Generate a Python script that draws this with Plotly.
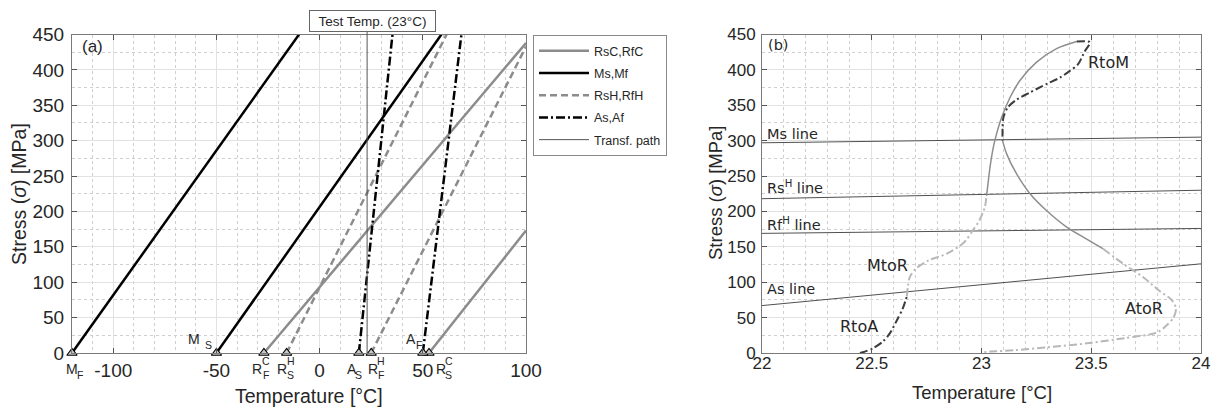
import plotly.graph_objects as go

# ---------------- panel (a): phase diagram ----------------
# each transformation line: zero-stress temperature -> end point
line_names = ["Mf", "Ms", "RfC", "RsC", "RsH", "RfH", "As", "Af"]
T_zero = [-120, -50, -27, 53, -16, 25, 19, 50]
T_end = [-10, 59, 100, 100, 61.5, 100, 35.3, 68.7]
S_end = [450, 450, 438, 173, 450, 433, 450, 450]
test_temp = 23
temp_ticks_a = [-100, -50, 0, 50, 100]
temp_ticklabels_a = ["-100", "-50", "0", "50", "100"]

# ---------------- panel (b): transformation path ----------------
# reference lines over 22..24 degC
ref_lines = ["Ms line", "Rs<sup>H</sup> line", "Rf<sup>H</sup> line", "As line"]
ref_S_left = [297, 218, 169, 67]
ref_S_right = [305, 230, 176, 126]
ref_label_S = [310, 234, 182, 90]

RtoA_T = [22.446, 22.46, 22.507, 22.55, 22.583, 22.614, 22.64, 22.655, 22.66]
RtoA_S = [0, 1, 7, 16, 28, 46, 62, 75, 80]

MtoR_T = [22.66, 22.665, 22.673, 22.70, 22.76, 22.84, 22.92, 22.96, 22.99, 23.015, 23.023]
MtoR_S = [80, 95, 107, 119, 131, 140, 156, 173, 187, 206, 222]

up_T = [23.023, 23.028, 23.039, 23.054, 23.069, 23.092, 23.13, 23.175, 23.251, 23.342, 23.434]
up_S = [222, 235, 263, 291, 310, 333, 361, 385, 411, 430, 440]

RtoM_T = [23.434, 23.494, 23.47, 23.44, 23.40, 23.357, 23.296, 23.22, 23.16, 23.12, 23.10, 23.096, 23.096]
RtoM_S = [440, 439, 426, 408, 398, 389, 380, 368, 358, 347, 333, 318, 300]

down_T = [23.096, 23.115, 23.16, 23.221, 23.297, 23.388, 23.479, 23.555]
down_S = [300, 281, 253, 225, 201, 178, 161, 147]

AtoR_T = [23.555, 23.646, 23.737, 23.81, 23.866, 23.886, 23.875, 23.84, 23.80, 23.65, 23.49, 23.30, 23.15, 23.04, 23.0]
AtoR_S = [147, 126, 107, 88, 75, 63, 50, 38, 29, 21, 14, 8, 4, 2, 1]

path_labels = ["RtoA", "MtoR", "RtoM", "AtoR"]
path_label_T = [22.44, 22.571, 23.578, 23.742]
path_label_S = [37, 124, 411, 63]

W, H = 1217, 407
ARIAL = "Liberation Sans, Arial, sans-serif"
DEJA = "DejaVu Sans, Verdana, sans-serif"
TXT = "#262626"

fig = go.Figure()

idx = {n: i for i, n in enumerate(line_names)}


def pair_xy(names):
    xs, ys = [], []
    for n in names:
        i = idx[n]
        xs += [T_zero[i], T_end[i], None]
        ys += [0, S_end[i], None]
    return xs, ys


legend_groups = [
    ("RsC,RfC", ["RfC", "RsC"], dict(color="#8c8c8c", width=2.5)),
    ("Ms,Mf", ["Mf", "Ms"], dict(color="#000000", width=2.5)),
    ("RsH,RfH", ["RsH", "RfH"], dict(color="#8c8c8c", width=2.5, dash="7px,4px")),
    ("As,Af", ["As", "Af"], dict(color="#000000", width=2.5, dash="9px,3px,2px,3px")),
]
for name, members, style in legend_groups:
    xs, ys = pair_xy(members)
    fig.add_trace(go.Scatter(x=xs, y=ys, mode="lines", name=name, line=style,
                             legendgroup=name, xaxis="x", yaxis="y"))

fig.add_trace(go.Scatter(x=[test_temp, test_temp], y=[0, 450], mode="lines",
                         name="Transf. path", legendgroup="path",
                         line=dict(color="#555555", width=1), xaxis="x", yaxis="y"))

fig.add_trace(go.Scatter(x=T_zero, y=[0] * len(T_zero), mode="markers", showlegend=False,
                         marker=dict(symbol="triangle-up", size=9, color="#c8c8c8",
                                     line=dict(color="#000000", width=1.1)),
                         cliponaxis=False, xaxis="x", yaxis="y"))

# ---- panel (b) traces ----
for k, lab in enumerate(ref_lines):
    fig.add_trace(go.Scatter(x=[22, 24], y=[ref_S_left[k], ref_S_right[k]], mode="lines",
                             showlegend=False, line=dict(color="#505050", width=1),
                             xaxis="x2", yaxis="y2"))

dark_dd = dict(color="#3c3c3c", width=2, dash="8px,3px,2px,3px", shape="spline", smoothing=0.8)
light_dd = dict(color="#b8b8b8", width=2, dash="8px,3px,2px,3px", shape="spline", smoothing=0.8)
mid_solid = dict(color="#8e8e8e", width=1.5, shape="spline", smoothing=0.8)

for xs, ys, st in [(RtoA_T, RtoA_S, dark_dd), (MtoR_T, MtoR_S, light_dd),
                   (up_T, up_S, mid_solid), (RtoM_T, RtoM_S, dark_dd),
                   (down_T, down_S, mid_solid), (AtoR_T, AtoR_S, light_dd)]:
    fig.add_trace(go.Scatter(x=xs, y=ys, mode="lines", showlegend=False, line=st,
                             xaxis="x2", yaxis="y2"))

annotations = []

# labels of the zero-stress points: (temperature, main, sup, sub, dx_main, dx_script, above)
point_labels = [
    (-120, "M", "", "F", 0, 8, False),
    (-50, "M", "", "S", -22, -8, True),
    (-27, "R", "C", "F", -7, 2, False),
    (-16, "R", "H", "S", -5, 4, False),
    (19, "A", "", "S", -7, 0, False),
    (25, "R", "H", "F", 2, 10, False),
    (50, "A", "", "F", -12, -4, True),
    (53, "R", "C", "S", 12, 19.5, False),
]
for T, main, sup, sub, dxm, dxs, above in point_labels:
    if above:
        ym, ysub = 14, 8
    else:
        ym, ysup, ysub = -16, -8, -22
    annotations.append(dict(x=T, y=0, xref="x", yref="y", text=main, showarrow=False,
                            xanchor="center", yanchor="middle",
                            xshift=dxm, yshift=ym, font=dict(family=ARIAL, size=14, color=TXT)))
    if sup:
        annotations.append(dict(x=T, y=0, xref="x", yref="y", text=sup, showarrow=False,
                                xanchor="center", yanchor="middle",
                                xshift=dxs, yshift=ysup, font=dict(family=ARIAL, size=10.5, color=TXT)))
    annotations.append(dict(x=T, y=0, xref="x", yref="y", text=sub, showarrow=False,
                            xanchor="center", yanchor="middle",
                            xshift=dxs, yshift=ysub, font=dict(family=ARIAL, size=10.5, color=TXT)))

annotations.append(dict(x=test_temp, y=1 - 21 / H, xref="x", yref="paper",
                        text="Test Temp. (23°C)", showarrow=False, xshift=5.5,
                        xanchor="center", yanchor="middle",
                        width=123, height=18, borderpad=1, bordercolor="#666666", borderwidth=1,
                        bgcolor="white", font=dict(family=ARIAL, size=13.5, color=TXT)))

annotations.append(dict(x=80 / W, y=1 - 46 / H, xref="paper", yref="paper", text="(a)",
                        xanchor="left", yanchor="middle", showarrow=False,
                        font=dict(family=ARIAL, size=17, color=TXT)))
annotations.append(dict(x=766 / W, y=1 - 45 / H, xref="paper", yref="paper", text="(b)",
                        xanchor="left", yanchor="middle", showarrow=False,
                        font=dict(family=DEJA, size=14.5, color=TXT)))

for k, lab in enumerate(ref_lines):
    annotations.append(dict(x=22.015, y=ref_label_S[k], xref="x2", yref="y2", text=lab,
                            xanchor="left", yanchor="middle", showarrow=False,
                            font=dict(family=DEJA, size=14.5, color=TXT)))
for k, lab in enumerate(path_labels):
    annotations.append(dict(x=path_label_T[k], y=path_label_S[k], xref="x2", yref="y2", text=lab,
                            xanchor="center", yanchor="middle",
                            showarrow=False, font=dict(family=DEJA, size=16, color=TXT)))

# axis titles
annotations += [
    dict(x=309 / W, y=1 - 396 / H, xref="paper", yref="paper", text="Temperature [°C]",
         xanchor="center", yanchor="middle",
         showarrow=False, font=dict(family=ARIAL, size=19.5, color=TXT)),
    dict(x=19 / W, y=1 - 194 / H, xref="paper", yref="paper", text="Stress (<i>σ</i>) [MPa]",
         xanchor="center", yanchor="middle",
         textangle=-90, showarrow=False, font=dict(family=ARIAL, size=19.5, color=TXT)),
    dict(x=982 / W, y=1 - 392 / H, xref="paper", yref="paper", text="Temperature [°C]",
         xanchor="center", yanchor="middle",
         showarrow=False, font=dict(family=ARIAL, size=18.5, color=TXT)),
    dict(x=715 / W, y=1 - 193 / H, xref="paper", yref="paper", text="Stress (<i>σ</i>) [MPa]",
         xanchor="center", yanchor="middle",
         textangle=-90, showarrow=False, font=dict(family=ARIAL, size=18.5, color=TXT)),
]

shapes = [dict(type="line", xref="x", yref="paper", x0=test_temp, x1=test_temp,
               y0=1 - 35 / H, y1=1 - 32 / H, line=dict(color="#555555", width=1))]

ydom = [1 - 353 / H, 1 - 34.5 / H]


def axis(domain, rng, dtick, minor, font_size, anchor, standoff):
    return dict(domain=domain, range=rng, tick0=0, dtick=dtick, anchor=anchor,
                automargin=False,
                ticks="inside", ticklen=5, tickcolor="#555555", showline=True,
                mirror="allticks", linecolor="#7a7a7a", linewidth=1,
                showgrid=True, gridcolor="#e2e2e2", gridwidth=1, zeroline=False,
                ticklabelstandoff=standoff,
                minor=dict(dtick=minor, showgrid=True, gridcolor="#cfcfcf", griddash="dot",
                           gridwidth=1),
                tickfont=dict(family=ARIAL, size=font_size, color=TXT))


xa = axis([72 / W, 526 / W], [-120, 100], 50, 10, 19, "y", 0)
xa.update(tickmode="array", tickvals=temp_ticks_a, ticktext=temp_ticklabels_a)

fig.update_layout(
    width=W, height=H, margin=dict(l=0, r=0, t=0, b=0, autoexpand=False),
    paper_bgcolor="white", plot_bgcolor="white",
    xaxis=xa,
    yaxis=axis(ydom, [0, 450], 50, 25, 19, "x", 3),
    xaxis2=axis([762 / W, 1201 / W], [22, 24], 0.5, 0.1, 17, "y2", -5),
    yaxis2=axis(ydom, [0, 450], 50, 25, 17, "x2", 2),
    legend=dict(x=533 / W, y=1 - 35 / H, xanchor="left", yanchor="top",
                bordercolor="#888888", borderwidth=1, bgcolor="white",
                font=dict(family=ARIAL, size=12.5, color=TXT), tracegroupgap=3,
                itemwidth=50),
    annotations=annotations, shapes=shapes,
)

fig.write_html("out.html")
